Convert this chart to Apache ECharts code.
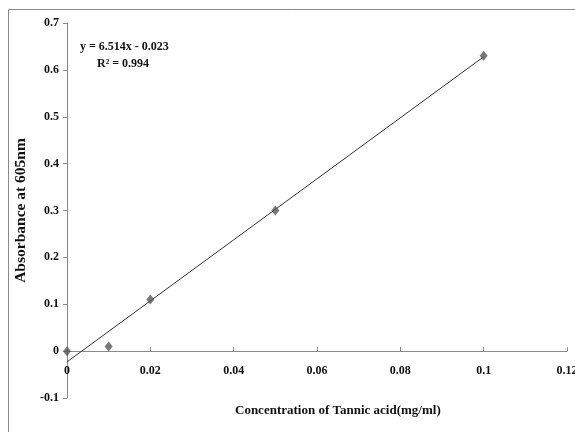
<!DOCTYPE html>
<html>
<head>
<meta charset="utf-8">
<script src="https://cdn.jsdelivr.net/npm/echarts@6/dist/echarts.min.js"></script>
<style>
  html, body { margin: 0; padding: 0; background: #fff; }
  #chart { width: 575px; height: 432px; }
</style>
</head>
<body>
<div id="chart"></div>
<script>
// measured points
var concX = [0, 0.01, 0.02, 0.05, 0.1];
var absorbY = [0, 0.01, 0.11, 0.30, 0.63];
// linear trendline ends, y = 6.514x - 0.023
var trendX = [0, 0.1];
var trendY = [-0.023, 0.628];
var eqText = 'y = 6.514x - 0.023';
var r2Text = 'R\u00b2 = 0.994';

var font = '"Liberation Serif", "DejaVu Serif", serif';

var gridTop = 23, gridBottom = 34;
// x axis crosses at y = 0, one band (0.1) above the bottom of the plot (-0.1 .. 0.7)
var bandPx = (432 - gridTop - gridBottom) / 8;

var chart = echarts.init(document.getElementById('chart'));
chart.setOption({
  animation: false,
  graphic: [
    {
      type: 'rect',
      shape: { x: 8.5, y: 9.5, width: 600, height: 500 },
      style: { fill: 'none', stroke: '#8a8a8a', lineWidth: 1 }
    },
    {
      type: 'text', left: 80, top: 41,
      style: { text: eqText, font: 'bold 12px ' + font, fill: '#111' }
    },
    {
      type: 'text', left: 97, top: 58,
      style: { text: r2Text, font: 'bold 12px ' + font, fill: '#111' }
    },
    {
      type: 'text', left: 235, top: 404,
      style: { text: 'Concentration of Tannic acid(mg/ml)', font: 'bold 13px ' + font, fill: '#111' }
    }
  ],
  grid: { left: 67, right: 8, top: gridTop, bottom: gridBottom, containLabel: false, outerBoundsMode: 'none' },
  xAxis: {
    type: 'value',
    min: 0, max: 0.12, interval: 0.02,
    offset: -bandPx,
    axisLine: { onZero: false, lineStyle: { color: '#8a8a8a', width: 1 } },
    axisTick: { inside: true, length: 4, lineStyle: { color: '#8a8a8a' } },
    axisLabel: { margin: 14, fontFamily: font, fontWeight: 'bold', fontSize: 12, color: '#111' },
    splitLine: { show: false }
  },
  yAxis: {
    type: 'value',
    min: -0.1, max: 0.7, interval: 0.1,
    name: 'Absorbance at 605nm',
    nameLocation: 'middle',
    nameGap: 32,
    nameRotate: 90,
    nameTextStyle: { fontFamily: font, fontWeight: 'bold', fontSize: 15.5, color: '#111' },
    axisLine: { show: true, onZero: false, lineStyle: { color: '#8a8a8a', width: 1 } },
    axisTick: { show: true, inside: false, length: 4, lineStyle: { color: '#8a8a8a' } },
    axisLabel: {
      margin: 8, fontFamily: font, fontWeight: 'bold', fontSize: 12, color: '#111',
      formatter: function (v) { return String(Math.round(v * 10) / 10); }
    },
    splitLine: { show: false }
  },
  series: [
    {
      name: 'trend',
      type: 'line',
      data: trendX.map(function (x, i) { return [x, trendY[i]]; }),
      symbol: 'none',
      lineStyle: { color: '#333', width: 1 },
      z: 2
    },
    {
      name: 'Absorbance',
      type: 'scatter',
      data: concX.map(function (x, i) { return [x, absorbY[i]]; }),
      symbol: 'diamond',
      symbolSize: [8, 10],
      itemStyle: { color: '#555' },
      z: 3
    }
  ]
});
</script>
</body>
</html>
